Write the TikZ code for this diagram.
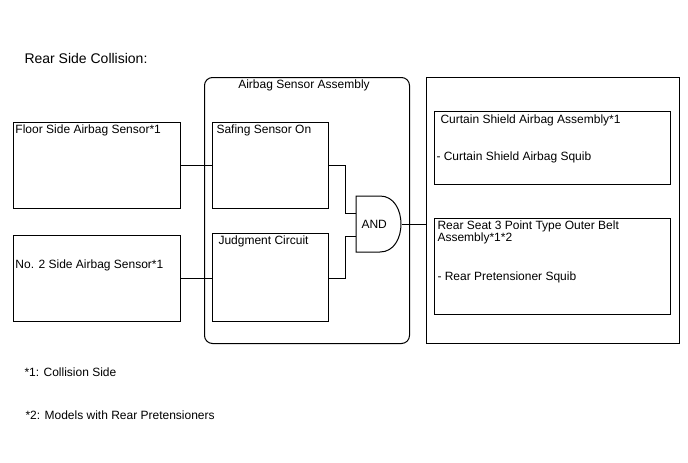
\documentclass[tikz,border=0pt]{standalone}
\usepackage{fontspec}
\setmainfont{Liberation Sans}
\usetikzlibrary{positioning}
\tikzset{
	blk/.style={draw, anchor=north west, inner sep=0pt},
	txt/.style={anchor=west, inner sep=0pt}
}
\begin{document}
\begin{tikzpicture}[x=1pt,y=-1pt,line width=1pt,font=\fontsize{12}{13}\selectfont]
	\useasboundingbox (0,0) rectangle (688,463);
	
	% Titel
	\node[txt, font=\fontsize{14}{16}\selectfont] (title) at (24,58) {Rear Side Collision:};
	
	% Sensoren links
	\node[blk, minimum width=167pt, minimum height=86pt] (floor) at (13,122) {};
	\node[txt] (floortxt) at (15,130) {Floor Side Airbag Sensor*1};
	\node[blk, minimum width=167pt, minimum height=86pt] (side) at (13,235) {};
	\node[txt] (sidetxt) at (15,265) {No. 2 Side Airbag Sensor*1};
	
	% Airbag Sensor Assembly
	\node[blk, rounded corners=8pt, minimum width=205pt, minimum height=266pt] (ecu) at (204,77) {};
	\node[inner sep=0pt] (ecutxt) at (304,85) {Airbag Sensor Assembly};
	\node[blk, minimum width=116pt, minimum height=86pt] (safing) at (212,122) {};
	\node[txt] (safingtxt) at (216,130) {Safing Sensor On};
	\node[blk, minimum width=116pt, minimum height=88pt] (judge) at (212,233) {};
	\node[txt] (judgetxt) at (218,241) {Judgment Circuit};
	
	% UND-Gatter
	\draw (356,196) -- (380,196) .. controls (408,196) and (408,252) .. (380,252) -- (356,252) -- cycle;
	\node[txt] (and) at (361,224) {AND};
	\coordinate (in1) at (356,213);
	\coordinate (in2) at (356,236);
	\coordinate (andout) at (402,224);
	
	% Ausgaenge
	\node[blk, minimum width=253pt, minimum height=266pt] (out) at (426,77) {};
	\node[blk, minimum width=236pt, minimum height=73pt] (curtain) at (434,111) {};
	\node[txt] (curtaintxt) at (440,120) {Curtain Shield Airbag Assembly*1};
	\node[txt] (curtainsq) at (436,157) {- Curtain Shield Airbag Squib};
	\node[blk, minimum width=236pt, minimum height=96pt] (belt) at (434,218) {};
	\node[txt] (belttxt) at (437,226) {Rear Seat 3 Point Type Outer Belt};
	\node[txt] (belttxt2) at (437,238) {Assembly*1*2};
	\node[txt] (beltsq) at (437,277) {- Rear Pretensioner Squib};
	
	% Verbindungen
	\draw (floor.east) -- (safing.west);
	\draw (side.east) -- (judge.west |- side.east);
	\draw (safing.east) -- ++(16,0) |- (in1);
	\draw (judge.east |- side.east) -- ++(16,0) |- (in2);
	\draw (andout) -- (andout -| out.west);
	
	% Fussnoten
	\node[txt] (note1) at (24,372) {*1: Collision Side};
	\node[txt] (note2) at (25,415) {*2: Models with Rear Pretensioners};
	
\end{tikzpicture}
\end{document}
